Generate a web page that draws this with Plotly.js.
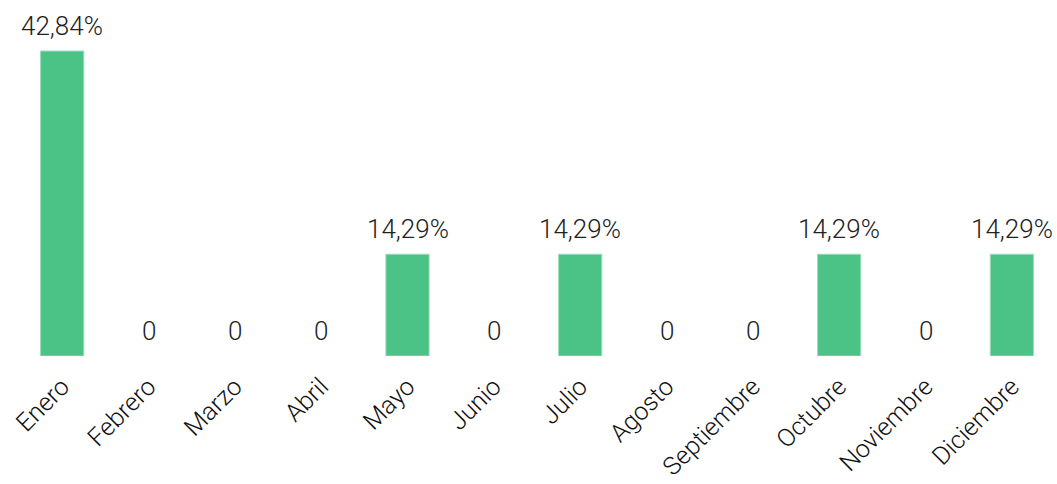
<!DOCTYPE html>
<html><head><meta charset="utf-8">
<script src="https://cdn.plot.ly/plotly-3.0.1.min.js"></script>
<style>html,body{margin:0;padding:0;background:#fff}</style>
</head><body>
<div id="chart" style="width:1057px;height:484px"></div>
<script>
const months = ["Enero","Febrero","Marzo","Abril","Mayo","Junio","Julio","Agosto","Septiembre","Octubre","Noviembre","Diciembre"];
const values = [42.84, 0, 0, 0, 14.29, 0, 14.29, 0, 0, 14.29, 0, 14.29];
const labels = values.map(v => v === 0 ? "0" : v.toFixed(2).replace(".", ",") + "%");

const annotations = months.map((m, i) => ({
  x: m, y: values[i], xref: "x", yref: "y",
  text: labels[i], showarrow: false,
  yanchor: "bottom", xanchor: "center", yshift: 8,
  font: {family: "Roboto", size: 26, color: "#222", weight: 300}
}));

Plotly.newPlot("chart", [{
  type: "bar",
  x: months,
  y: values,
  marker: {color: "#4bc386", line: {color: "rgba(150,220,185,1)", width: values.map(v => v === 0 ? 0 : 1)}},
  hoverinfo: "none"
}], {
  width: 1057, height: 484,
  margin: {l: 19, r: 2, t: 20, b: 128},
  bargap: 0.5,
  showlegend: false,
  annotations: annotations,
  paper_bgcolor: "#fff", plot_bgcolor: "#fff",
  xaxis: {tickangle: -45, showgrid: false, zeroline: false, showline: false, ticks: "",
          ticklabelstandoff: 10,
          tickfont: {family: "Roboto", size: 25, color: "#111", weight: 300}},
  yaxis: {range: [0, 47.2], visible: false, showgrid: false, zeroline: false}
}, {displayModeBar: false, staticPlot: true});
</script>
</body></html>
